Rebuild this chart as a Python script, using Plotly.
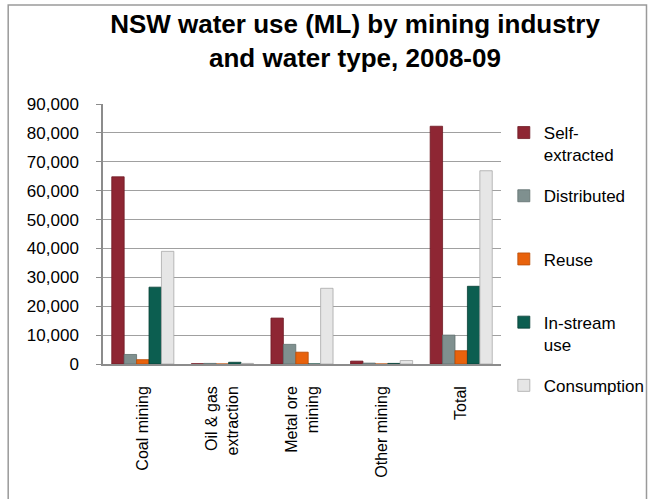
import plotly.graph_objects as go

categories = ["Coal mining", "Oil & gas<br>extraction", "Metal ore<br>mining", "Other mining", "Total"]
series_names = ["Self-<br>extracted", "Distributed", "Reuse", "In-stream<br>use", "Consumption"]
self_extracted = [64800, 100, 15900, 1000, 82300]
distributed = [3300, 200, 6800, 300, 10000]
reuse = [1500, 0, 4100, 0, 4600]
in_stream = [26600, 600, 0, 200, 26900]
consumption = [39000, 200, 26200, 1200, 66900]

values = [self_extracted, distributed, reuse, in_stream, consumption]
fills = ["#8E2633", "#7F908F", "#E8620C", "#0C5E50", "#E6E6E6"]
edges = ["#6E1A25", "#5F706F", "#B84C08", "#073F35", "#A8A8A8"]

W, H = 662, 499
L, R, T, B = 103, 135, 104, 135
pw, ph = W - L - R, H - T - B

fig = go.Figure()
for i, (name, vals) in enumerate(zip(series_names, values)):
    label = name if "<br>" in name else name + "<br> "
    if i == len(series_names) - 1:
        label = name
    fig.add_trace(go.Bar(
        x=categories, y=vals, name=label,
        marker=dict(color=fills[i], line=dict(color=edges[i], width=0.8)),
        legendgroup=str(i),
    ))

font = "Liberation Sans, Arial, sans-serif"
fig.update_layout(
    width=W, height=H,
    margin=dict(l=L, r=R, t=T, b=B),
    paper_bgcolor="white", plot_bgcolor="white",
    barmode="group", bargap=0.22, bargroupgap=0,
    title=dict(
        text="<b>NSW water use (ML) by mining industry<br>and water type, 2008-09</b>",
        x=(355) / W, xanchor="center", y=1 - 33 / H, yanchor="top",
        font=dict(family=font, size=26, color="black"),
    ),
    font=dict(family=font, color="black"),
    legend=dict(
        x=(530 - L) / pw, xanchor="left",
        y=(364 - 115) / ph, yanchor="top",
        font=dict(family=font, size=17, color="black"),
        tracegroupgap=16, valign="top", itemwidth=30,
        bgcolor="rgba(0,0,0,0)", maxheight=460,
    ),
    xaxis=dict(
        tickangle=-90, tickfont=dict(family=font, size=16, color="black"),
        showline=True, linecolor="#8C8C8C", linewidth=1.5,
        ticks="", showgrid=False, ticklabelstandoff=14,
    ),
    yaxis=dict(
        range=[0, 90000], dtick=10000, tickformat=",d",
        tickfont=dict(family=font, size=17, color="black"),
        showline=True, linecolor="#8C8C8C", linewidth=1.5,
        showgrid=True, gridcolor="#A0A0A0", gridwidth=1.2,
        ticks="outside", ticklen=5, tickcolor="#8C8C8C",
        ticklabelstandoff=14, zeroline=False,
    ),
    shapes=[dict(
        type="rect", xref="paper", yref="paper",
        x0=(2 - L) / pw, x1=(W + 20 - L) / pw,
        y0=(364 - (H + 20)) / ph, y1=(364 - 5) / ph,
        line=dict(color="#9A9A9A", width=1.5), fillcolor="rgba(0,0,0,0)",
        layer="below",
    )],
)

fig.write_html("out.html")
